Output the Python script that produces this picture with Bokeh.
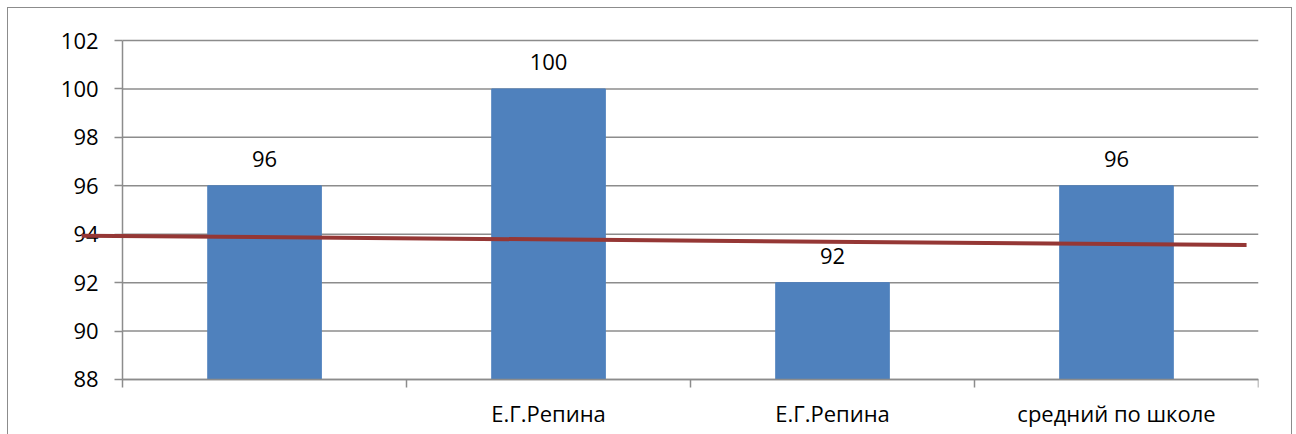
from bokeh.plotting import figure
from bokeh.models import Range1d, FixedTicker, ColumnDataSource
from bokeh.core.properties import value
from bokeh.embed import file_html
from bokeh.resources import INLINE

# ---- data ----
categories = ["", "Е.Г.Репина", "Е.Г.Репина", "средний по школе"]
scores = [96, 100, 92, 96]
y_ticks = [88, 90, 92, 94, 96, 98, 100, 102]
y_tick_labels = ["88", "90", "92", "94", "96", "98", "100", "102"]
# linear trendline (as drawn, with Excel-style forecast periods)
trend_start_value = 93.94
trend_end_value = 93.55
trend_backward_periods = 0.644
trend_forward_periods = 0.458

FONT = "Open Sans"
FS = "22px"
BAR = "#4F81BD"
TREND = "#953735"
GRID = "#8C8C8C"

n = len(categories)
centers = [i + 0.5 for i in range(n)]
y_min, y_max = y_ticks[0], y_ticks[-1]
# layout padding of the frame (room for labels and the trendline's backward forecast)
PAD_LEFT = 0.296   # category widths
PAD_TOP = 1.157    # value units
PAD_BOTTOM = 2.19  # value units

p = figure(width=1283, height=436, output_backend="svg", toolbar_location=None,
           x_range=Range1d(-PAD_LEFT, n), y_range=Range1d(y_min - PAD_BOTTOM, y_max + PAD_TOP),
           min_border_left=30, min_border_right=33, min_border_top=4, min_border_bottom=12)
p.outline_line_color = None
p.background_fill_color = "white"
p.border_fill_color = "white"
p.styles = {"margin-left": "8px", "margin-top": "8px", "outline": "1px solid #8C8C8C"}

# horizontal gridlines over the category area only
p.xgrid.grid_line_color = None
p.ygrid.grid_line_color = None
p.segment(x0=[0] * len(y_ticks), x1=[n] * len(y_ticks), y0=y_ticks, y1=y_ticks,
          line_color=GRID, line_width=1.5, level="underlay")

# value-axis labels (as text so the trendline can run over them)
p.text(x=[0] * len(y_ticks), y=y_ticks, text=y_tick_labels, x_offset=-24,
       text_align="right", text_baseline="middle", text_font=value(FONT),
       text_font_size=FS, text_color="black")

# category labels
p.text(x=centers, y=[y_min] * n, text=categories, y_offset=34,
       text_align="center", text_baseline="middle", text_font=value(FONT),
       text_font_size=FS, text_color="black")

src = ColumnDataSource(dict(x=centers, top=scores, label=[str(v) for v in scores]))
p.vbar(x="x", top="top", bottom=y_min, width=0.4, source=src,
       fill_color=BAR, line_color=BAR)
p.text(x="x", y="top", text="label", source=src, text_align="center",
       text_baseline="alphabetic", y_offset=-27, text_font=value(FONT),
       text_font_size=FS, text_color="black")

# trendline, drawn above the axes like the original
trend_x = [centers[0] - trend_backward_periods, centers[-1] + trend_forward_periods]
trend_y = [trend_start_value, trend_end_value]
p.line(trend_x, trend_y, line_color=TREND, line_width=4, level="overlay")

# value axis anchored at the start of the category area
p.yaxis.fixed_location = 0
p.yaxis.bounds = (y_min, y_max)
p.yaxis.ticker = FixedTicker(ticks=y_ticks)
p.yaxis.major_label_overrides = {t: "" for t in y_ticks}
p.yaxis.major_label_standoff = 0
p.yaxis.axis_line_color = GRID
p.yaxis.axis_line_width = 1.5
p.yaxis.major_tick_line_color = GRID
p.yaxis.major_tick_line_width = 1.5
p.yaxis.major_tick_in = 0
p.yaxis.major_tick_out = 8
p.yaxis.minor_tick_line_color = None

# category axis anchored at the bottom of the value scale
p.xaxis.fixed_location = y_min
p.xaxis.bounds = (0, n)
p.xaxis.ticker = FixedTicker(ticks=centers, minor_ticks=list(range(n + 1)))
p.xaxis.major_label_overrides = {c: "" for c in centers}
p.xaxis.major_label_standoff = 0
p.xaxis.axis_line_color = GRID
p.xaxis.axis_line_width = 1.5
p.xaxis.major_tick_line_color = None
p.xaxis.major_tick_in = 0
p.xaxis.major_tick_out = 0
p.xaxis.minor_tick_line_color = GRID
p.xaxis.minor_tick_line_width = 1.5
p.xaxis.minor_tick_in = 0
p.xaxis.minor_tick_out = 8

open("out.html", "w").write(file_html(p, INLINE))
